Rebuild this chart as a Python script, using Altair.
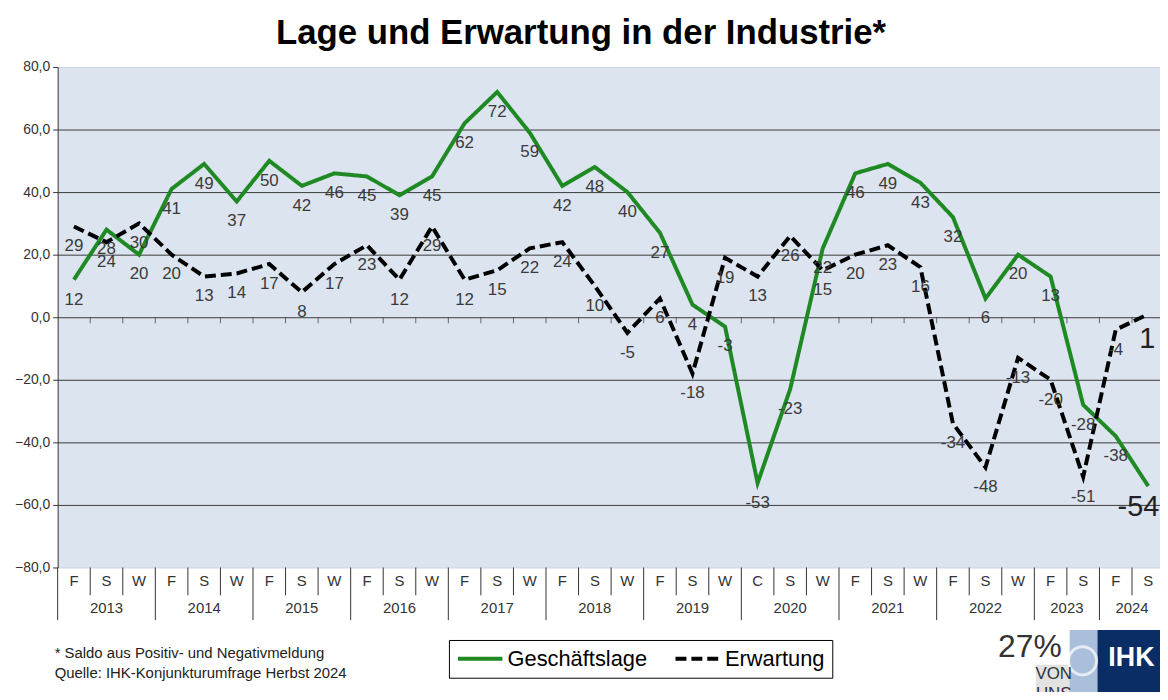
import altair as alt
import pandas as pd

# ---------------- data ----------------
jahre = ["2013", "2014", "2015", "2016", "2017", "2018", "2019",
         "2020", "2021", "2022", "2023", "2024"]
perioden_je_jahr = [["F", "S", "W"]] * 7 + [["C", "S", "W"]] + [["F", "S", "W"]] * 2 + [["F", "S"], ["F", "S"]]

geschaeftslage = [12, 28, 20, 41, 49, 37, 50, 42, 46, 45, 39, 45,
                  62, 72, 59, 42, 48, 40, 27, 4, -3, -53, -23, 22,
                  46, 49, 43, 32, 6, 20, 13, -28, -38, -54]
erwartung = [29, 24, 30, 20, 13, 14, 17, 8, 17, 23, 12, 29,
             12, 15, 22, 24, 10, -5, 6, -18, 19, 13, 26, 15,
             20, 23, 16, -34, -48, -13, -20, -51, -4, 1]

reihen = ["Geschäftslage", "Erwartung"]
farben = ["#1f8a24", "#000000"]

titel = "Lage und Erwartung in der Industrie*"
fussnote = ["* Saldo aus Positiv- und Negativmeldung",
            "Quelle: IHK-Konjunkturumfrage Herbst 2024"]

# ---------------- tables ----------------
perioden = [p for ps in perioden_je_jahr for p in ps]
jahr_je_periode = [j for j, ps in zip(jahre, perioden_je_jahr) for _ in ps]
n = len(perioden)
idx = list(range(n))

lines_df = pd.DataFrame({
    "i": idx + idx,
    "wert": geschaeftslage + erwartung,
    "Reihe": [reihen[0]] * n + [reihen[1]] * n,
})
lines_df["label"] = lines_df["wert"].astype(str)

per_df = pd.DataFrame({"i": idx, "per": perioden, "jahr": jahr_je_periode})

starts = []
pos = 0
for ps in perioden_je_jahr:
    starts.append(pos)
    pos += len(ps)
bound_rows = []
for k in range(n + 1):
    bound_rows.append({"b": k - 0.5, "typ": "jahr" if (k in starts or k == n) else "per"})
bound_df = pd.DataFrame(bound_rows)

year_df = pd.DataFrame({
    "jahr": jahre,
    "mitte": [s + (len(ps) - 1) / 2 for s, ps in zip(starts, perioden_je_jahr)],
})

W, H = 1110, 504
FONT = "Liberation Sans"
# the right end of the category axis is cut off by the picture's edge, as in the original
xs = alt.Scale(domain=[-0.5, n - 0.64], nice=False, zero=False)
ys = alt.Scale(domain=[-80, 80], nice=False, zero=False)

y_axis = alt.Axis(
    values=list(range(-80, 81, 20)),
    labelExpr="replace(format(datum.value, '.1f'), '.', ',')",
    grid=True,
    gridColor=alt.condition("abs(datum.value) == 80", alt.value("#c9d2e2"), alt.value("#3a3a3a")),
    gridWidth=1,
    domainColor="#333333", tickColor="#333333", tickSize=5,
    labelFontSize=14, labelColor="#333333", labelFont=FONT, labelPadding=3,
    title="")


def Y(field):
    return alt.Y(field, scale=ys, axis=y_axis)


def X(field):
    return alt.X(field, scale=xs, axis=None)


zero_ticks = alt.Chart(bound_df).mark_tick(orient="vertical", size=6, thickness=1, color="#333333", yOffset=3).encode(
    x=X("b:Q"),
    y=alt.Y(datum=0, scale=ys, axis=y_axis),
).transform_filter(f"datum.b > -0.5 && datum.b < {n - 0.5}")

sep_per = alt.Chart(bound_df).mark_rule(color="#333333", strokeWidth=1).encode(
    x=X("b:Q"),
    y=alt.value(H), y2=alt.value(H + 28),
).transform_filter("datum.typ == 'per'")

sep_jahr = alt.Chart(bound_df).mark_rule(color="#333333", strokeWidth=1).encode(
    x=X("b:Q"),
    y=alt.value(H), y2=alt.value(H + 53),
).transform_filter("datum.typ == 'jahr'")

per_text = alt.Chart(per_df).mark_text(font=FONT, fontSize=15, color="#333333", baseline="middle").encode(
    x=X("i:Q"),
    y=alt.value(H + 14),
    text="per:N",
)

year_text = alt.Chart(year_df).mark_text(font=FONT, fontSize=15, color="#333333", baseline="middle").encode(
    x=X("mitte:Q"),
    y=alt.value(H + 41),
    text="jahr:N",
)

legend_kw = dict(
    orient="none", legendX=394, legendY=577, direction="horizontal", title=None,
    strokeColor="#000000", fillColor="#ffffff", padding=7, clipHeight=24,
    labelFont=FONT, labelFontSize=22, labelColor="#000000", labelOffset=3,
    symbolType="stroke", symbolSize=2000, symbolStrokeWidth=4, columnPadding=26,
)
color_enc = alt.Color("Reihe:N", scale=alt.Scale(domain=reihen, range=farben), legend=alt.Legend(**legend_kw))
dash_enc = alt.StrokeDash("Reihe:N", scale=alt.Scale(domain=reihen, range=[[1, 0], [11, 5]]), legend=alt.Legend(**legend_kw))


def line_layer(name):
    return alt.Chart(lines_df).transform_filter(alt.datum.Reihe == name).mark_line(strokeWidth=4).encode(
        x=X("i:Q"),
        y=Y("wert:Q"),
        color=color_enc,
        strokeDash=dash_enc,
        order="i:Q",
    )


labels = alt.Chart(lines_df).transform_filter(f"datum.i < {n - 1}").mark_text(
    font=FONT, fontSize=17, color="#3a3a3a", dy=20, baseline="middle").encode(
    x=X("i:Q"),
    y=Y("wert:Q"),
    text="label:N",
)
last_g = alt.Chart(lines_df).transform_filter(f"datum.i == {n - 1} && datum.Reihe == '{reihen[0]}'").mark_text(
    font=FONT, fontSize=29, color="#222222", dy=21, dx=-10, baseline="middle").encode(
    x=X("i:Q"),
    y=Y("wert:Q"),
    text="label:N",
)
last_e = alt.Chart(lines_df).transform_filter(f"datum.i == {n - 1} && datum.Reihe == '{reihen[1]}'").mark_text(
    font=FONT, fontSize=29, color="#222222", dy=25, dx=-1, baseline="middle").encode(
    x=X("i:Q"),
    y=Y("wert:Q"),
    text="label:N",
)

title_layer = alt.Chart(pd.DataFrame({"t": [titel]})).mark_text(
    font=FONT, fontSize=35, fontWeight="bold", color="#000000", baseline="middle").encode(
    x=alt.value(527), y=alt.value(-34), text="t:N")

foot_df = pd.DataFrame({"t": fussnote, "z": [0, 1]})
foot_layer = alt.Chart(foot_df).mark_text(
    font=FONT, fontSize=15, color="#222222", align="left", baseline="middle").encode(
    x=alt.value(-3), y=alt.value(590), text="t:N",
    yOffset=alt.YOffset("z:Q", scale=alt.Scale(domain=[0, 1], range=[0, 20])))

# logo (decoration)
one = pd.DataFrame({"a": [0]})
logo_navy = alt.Chart(one).mark_rect(color="#0b2d66").encode(
    x=alt.value(1047), x2=alt.value(1110), y=alt.value(567), y2=alt.value(640))
logo_light = alt.Chart(one).mark_rect(color="#a9bfdc").encode(
    x=alt.value(1019), x2=alt.value(1047), y=alt.value(567), y2=alt.value(640))
logo_gray = alt.Chart(one).mark_rect(color="#e2e2e2").encode(
    x=alt.value(985), x2=alt.value(1021), y=alt.value(602), y2=alt.value(640))
logo_circle = alt.Chart(one).mark_point(shape="circle", size=800, filled=False, color="#ffffff", strokeWidth=3).encode(
    x=alt.value(1032), y=alt.value(598))
logo_27 = alt.Chart(pd.DataFrame({"t": ["27%"]})).mark_text(font=FONT, fontSize=32, color="#333333", align="left", baseline="middle").encode(
    x=alt.value(947), y=alt.value(584), text="t:N")
logo_von = alt.Chart(pd.DataFrame({"t": ["VON", "UNS"], "z": [0, 1]})).mark_text(font=FONT, fontSize=17, color="#333333", baseline="middle").encode(
    x=alt.value(1003), y=alt.value(611), text="t:N",
    yOffset=alt.YOffset("z:Q", scale=alt.Scale(domain=[0, 1], range=[0, 14])))
logo_ihk = alt.Chart(pd.DataFrame({"t": ["IHK"]})).mark_text(font=FONT, fontSize=27, fontWeight="bold", color="#ffffff", align="left", baseline="middle").encode(
    x=alt.value(1058), y=alt.value(595), text="t:N")

chart = alt.layer(
    zero_ticks, sep_per, sep_jahr, per_text, year_text,
    line_layer(reihen[0]), line_layer(reihen[1]),
    labels, last_g, last_e,
    title_layer, foot_layer,
    logo_gray, logo_light, logo_navy, logo_circle, logo_27, logo_von, logo_ihk,
).properties(
    width=W, height=H,
    autosize=alt.AutoSizeParams(type="none"),
    padding={"left": 50, "top": 57, "right": 0, "bottom": 123},
    background="#ffffff",
).configure_view(fill="#dce4f0", stroke="transparent")

chart.save("out.html", embed_options={"renderer": "svg", "actions": False})
